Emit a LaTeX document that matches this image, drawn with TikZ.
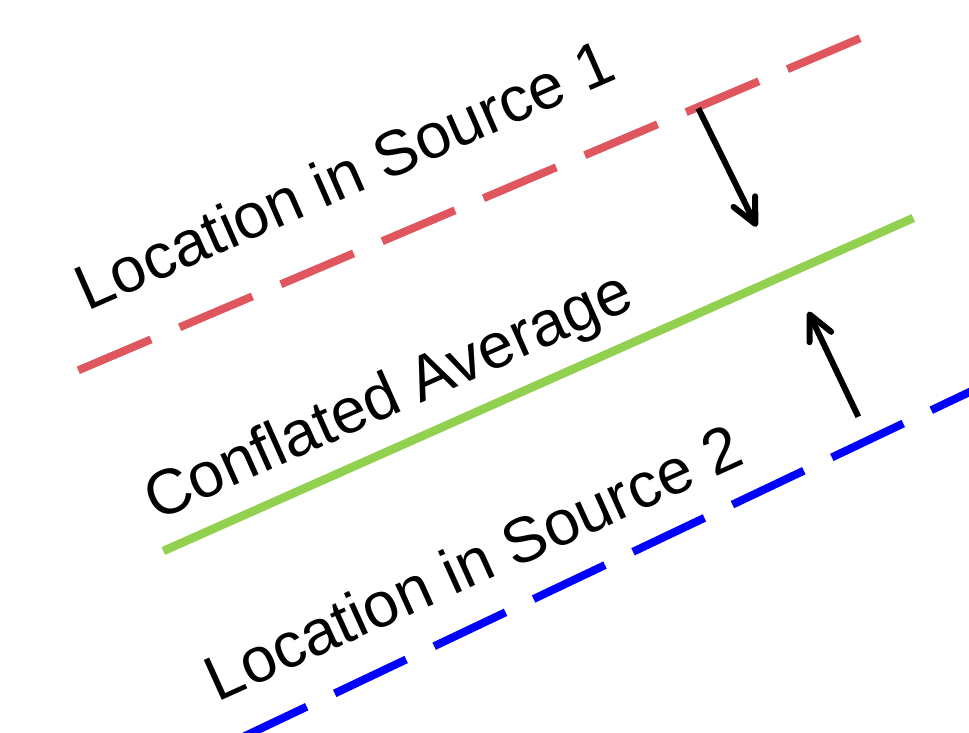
\documentclass[tikz,border=0pt]{standalone}
\usepackage{fontspec}
\setmainfont{Liberation Sans}
\usetikzlibrary{arrows.meta}
\definecolor{srcred}{RGB}{224,86,94}
\definecolor{avggreen}{RGB}{146,208,80}
\definecolor{srcblue}{RGB}{0,0,255}
\tikzset{
  lbl/.style={inner sep=0pt, outer sep=0pt, anchor=base west, font=\fontsize{18.1}{21}\selectfont},
  dashline/.style={line width=0.08cm, dash pattern=on 0.79cm off 0.31cm},
  redline/.style={dashline, draw=srcred},
  blueline/.style={dashline, draw=srcblue},
  greenline/.style={line width=0.085cm, draw=avggreen},
  shift arrow/.style={line width=0.06cm, draw=black, -{Straight Barb[length=2.5mm,width=2.4mm,round]}}
}
\begin{document}
\begin{tikzpicture}[x=0.01cm,y=-0.01cm]
\useasboundingbox (0,0) rectangle (969,732);
\clip (0,0) rectangle (969,732);
% line end points
\coordinate (r1) at (78.3,370.3);
\coordinate (r2) at (860,38.3);
\coordinate (g1) at (163.3,551);
\coordinate (g2) at (913.3,218);
\coordinate (b1) at (235.3,740.6);
\coordinate (b2) at (1002.2,376.5);
% lines
\draw[redline] (r1) -- (r2);
\draw[greenline] (g1) -- (g2);
\draw[blueline] (b1) -- (b2);
% labels
\node[lbl, rotate=23.7] (src1) at (87.5,311.8) {Location in Source 1};
\node[lbl, rotate=24] (avg) at (156,521) {Conflated Average};
\node[lbl, rotate=24.3] (src2) at (218,702) {Location in Source 2};
% arrows
\coordinate (a1s) at (698.3,108.3);
\coordinate (a1e) at (756.7,226.7);
\coordinate (a2s) at (858.3,416.7);
\coordinate (a2e) at (808.3,311.7);
\draw[shift arrow] (a1s) -- (a1e);
\draw[shift arrow] (a2s) -- (a2e);
\end{tikzpicture}
\end{document}
